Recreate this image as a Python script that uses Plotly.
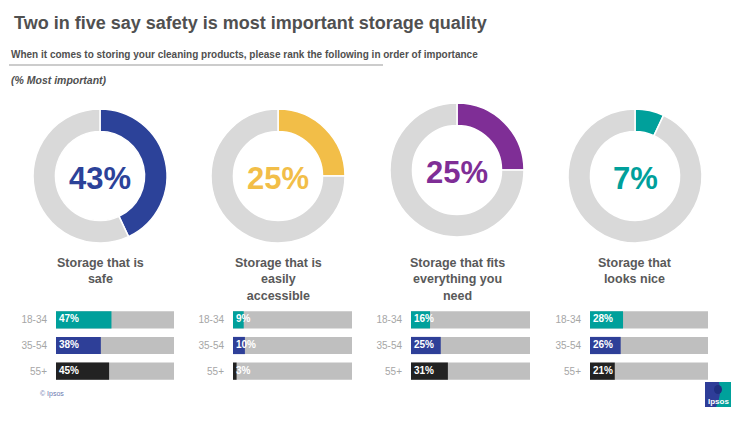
import plotly.graph_objects as go

W, H = 752, 422

# ---------------- data ----------------
categories = ["Storage that is<br>safe",
              "Storage that is<br>easily<br>accessible",
              "Storage that fits<br>everything you<br>need",
              "Storage that<br>looks nice"]
overall = [43, 25, 25, 7]
ages = ["18-34", "35-54", "55+"]
age_18_34 = [47, 9, 16, 28]
age_35_54 = [38, 10, 25, 26]
age_55_plus = [45, 3, 31, 21]

donut_colors = ["#2C4299", "#F2BE48", "#7F2E96", "#00A09B"]
age_colors = ["#00A09B", "#2E3F98", "#222222"]
ring_gray = "#D9D9D9"
bar_gray = "#BFBFBF"

# ---------------- layout helpers (pixel boxes) ----------------
def px(x):
    return x / W

def py(y):
    return 1 - y / H

donut_boxes = [(33, 167, 109, 243), (211, 345, 109, 243),
               (390, 524, 103, 237), (568, 702, 109, 243)]
bar_boxes_x = [(56, 174), (233, 352), (411, 530), (590, 708)]
bar_box_y = (307, 384)

fig = go.Figure()
annotations = []

for i, v in enumerate(overall):
    x0, x1, y0, y1 = donut_boxes[i]
    fig.add_trace(go.Pie(
        values=[v, 100 - v],
        marker=dict(colors=[donut_colors[i], ring_gray], line=dict(color="white", width=1.5)),
        hole=0.665, sort=False, direction="clockwise", rotation=0,
        textinfo="none", hoverinfo="skip", showlegend=False,
        domain=dict(x=[px(x0), px(x1)], y=[py(y1), py(y0)]),
    ))
    cx = (x0 + x1) / 2
    cy = (y0 + y1) / 2
    annotations.append(dict(
        x=px(cx), y=py(cy + 2), xref="paper", yref="paper", showarrow=False,
        text=f"<b>{v}%</b>", xanchor="center", yanchor="middle",
        font=dict(family="Liberation Sans, Arial", size=31, color=donut_colors[i]),
    ))
    annotations.append(dict(
        x=px(cx), y=py(254), xref="paper", yref="paper", showarrow=False,
        text=f"<b>{categories[i]}</b>", xanchor="center", yanchor="top", align="center",
        font=dict(family="Liberation Sans, Arial", size=12.5, color="#595959"),
    ))

layout_axes = {}
for i in range(4):
    xa = "x" if i == 0 else f"x{i + 1}"
    ya = "y" if i == 0 else f"y{i + 1}"
    vals = [age_18_34[i], age_35_54[i], age_55_plus[i]]
    fig.add_trace(go.Bar(
        x=[100] * 3, y=ages, orientation="h", marker=dict(color=bar_gray, line=dict(width=0)),
        width=0.67, xaxis=xa, yaxis=ya, hoverinfo="skip", showlegend=False,
    ))
    fig.add_trace(go.Bar(
        x=vals, y=ages, orientation="h", marker=dict(color=age_colors, line=dict(width=0)),
        width=0.67, xaxis=xa, yaxis=ya, hoverinfo="skip", showlegend=False,
    ))
    fig.add_trace(go.Scatter(
        x=[2.5] * 3, y=ages, mode="text", text=[f"<b>{v}%</b>" for v in vals],
        textposition="middle right",
        textfont=dict(family="Liberation Sans, Arial", size=10, color="white"),
        xaxis=xa, yaxis=ya, hoverinfo="skip", showlegend=False,
    ))
    bx0, bx1 = bar_boxes_x[i]
    layout_axes["xaxis" if i == 0 else f"xaxis{i + 1}"] = dict(
        domain=[px(bx0), px(bx1)], range=[0, 100], visible=False, fixedrange=True,
        anchor=ya,
    )
    layout_axes["yaxis" if i == 0 else f"yaxis{i + 1}"] = dict(
        domain=[py(bar_box_y[1]), py(bar_box_y[0])], type="category",
        categoryorder="array", categoryarray=ages, range=[2.5, -0.5],
        showgrid=False, zeroline=False, showline=False, ticks="",
        ticklabelstandoff=8, fixedrange=True, anchor=xa,
        tickfont=dict(family="Liberation Sans, Arial", size=10, color="#A6A6A6"),
    )

# titles
annotations += [
    dict(x=px(12), y=py(23), xref="paper", yref="paper", showarrow=False,
         xanchor="left", yanchor="middle",
         text="<b>Two in five say safety is most important storage quality</b>",
         font=dict(family="Liberation Sans, Arial", size=18, color="#505050")),
    dict(x=px(9), y=py(55), xref="paper", yref="paper", showarrow=False,
         xanchor="left", yanchor="middle",
         text="<b>When it comes to storing your cleaning products, please rank the following in order of importance</b>",
         font=dict(family="Liberation Sans, Arial", size=10, color="#505050")),
    dict(x=px(9), y=py(80), xref="paper", yref="paper", showarrow=False,
         xanchor="left", yanchor="middle",
         text="<b><i>(% Most important)</i></b>",
         font=dict(family="Liberation Sans, Arial", size=10.5, color="#505050")),
    dict(x=px(38), y=py(394), xref="paper", yref="paper", showarrow=False,
         xanchor="left", yanchor="middle", text="© Ipsos",
         font=dict(family="Liberation Sans, Arial", size=7, color="#6A78B0")),
    dict(x=px(718), y=py(401), xref="paper", yref="paper", showarrow=False,
         xanchor="center", yanchor="middle", text="<b>Ipsos</b>",
         font=dict(family="Liberation Sans, Arial", size=8, color="white")),
]

shapes = [
    dict(type="line", xref="paper", yref="paper", x0=px(9), x1=px(383), y0=py(65), y1=py(65),
         line=dict(color="#CCCCCC", width=2)),
    # Ipsos logo
    dict(type="rect", xref="paper", yref="paper", x0=px(705), x1=px(731), y0=py(407), y1=py(382),
         fillcolor="#2E3D98", line=dict(width=0)),
    dict(type="path", xref="paper", yref="paper",
         path=f"M {px(719)},{py(382)} L {px(731)},{py(382)} L {px(731)},{py(407)} L {px(716)},{py(407)} "
              f"Q {px(722)},{py(396)} {px(719)},{py(382)} Z",
         fillcolor="#00A19B", line=dict(width=0)),
    dict(type="circle", xref="paper", yref="paper", x0=px(714), x1=px(722), y0=py(394), y1=py(385),
         fillcolor="#1F2F80", line=dict(width=0)),
]

fig.update_layout(
    width=W, height=H, margin=dict(l=0, r=0, t=0, b=0),
    paper_bgcolor="white", plot_bgcolor="white",
    barmode="overlay", annotations=annotations, shapes=shapes,
    **layout_axes,
)

fig.write_html("out.html")
